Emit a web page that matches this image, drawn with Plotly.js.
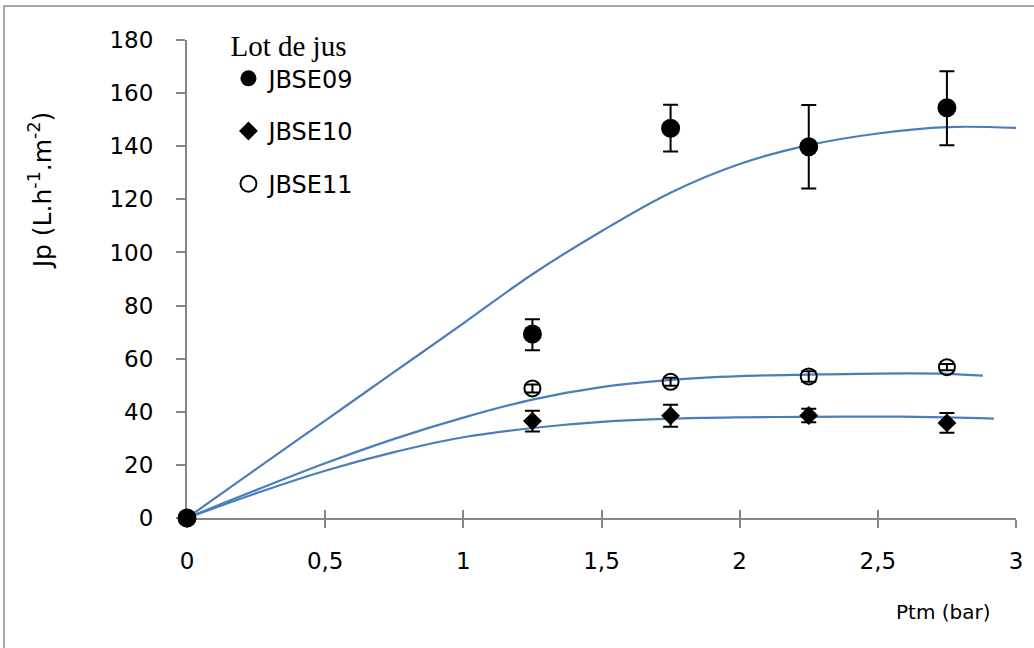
<!DOCTYPE html>
<html>
<head>
<meta charset="utf-8">
<script src="https://cdn.plot.ly/plotly-3.0.1.min.js"></script>
<style>html,body{margin:0;padding:0;background:#fff;}#chart{width:1034px;height:648px;}</style>
</head>
<body>
<div id="chart"></div>
<script>
// Measured points (Ptm in bar, Jp in L.h-1.m-2)
var ptm = [0, 1.25, 1.75, 2.25, 2.75];
var jp09 = [0, 69.3, 146.8, 139.8, 154.5];
var err09Plus = [0, 5.5, 8.8, 15.7, 13.7];
var err09Minus = [0, 6.1, 8.8, 15.7, 14.1];
var jp10 = [0, 36.5, 38.5, 38.6, 35.8];
var err10 = [0, 3.9, 4.1, 2.5, 3.7];
var jp11 = [0, 48.8, 51.3, 53.3, 56.8];
var err11 = [0, 1.5, 1.5, 2.0, 1.2];

// Fitted curves
var fitX09 = [0, 0.25, 0.5, 0.75, 1, 1.25, 1.5, 1.75, 2, 2.25, 2.5, 2.75, 3];
var fitY09 = [0, 18.4, 36.7, 55, 73.3, 91.8, 108, 122.5, 133.3, 140.4, 144.8, 147.2, 146.9];
var fitX10 = [0, 0.25, 0.5, 0.75, 1, 1.25, 1.5, 1.75, 2, 2.25, 2.5, 2.75, 2.92];
var fitY10 = [0, 9.3, 17.8, 24.8, 30.4, 33.9, 36.2, 37.4, 37.9, 38.1, 38.2, 37.9, 37.4];
var fitX11 = [0, 0.25, 0.5, 0.75, 1, 1.25, 1.5, 1.75, 2, 2.25, 2.5, 2.75, 2.88];
var fitY11 = [0, 10.5, 20.6, 29.8, 37.8, 44.6, 49.3, 52, 53.4, 54, 54.4, 54.3, 53.6];

var seriesNames = ['JBSE09', 'JBSE10', 'JBSE11'];
var xTickVals = [0, 0.5, 1, 1.5, 2, 2.5, 3];
var xTickText = ['0', '0,5', '1', '1,5', '2', '2,5', '3'];
var yTickVals = [0, 20, 40, 60, 80, 100, 120, 140, 160, 180];
var yTickText = ['0', '20', '40', '60', '80', '100', '120', '140', '160', '180'];

var blue = '#4a7ebb';
var fitStyle = {color: blue, width: 2.2, shape: 'spline', smoothing: 1};
var ebStyle = {color: '#000', thickness: 2, width: 7.5};

var traces = [
  {x: fitX09, y: fitY09, mode: 'lines', line: fitStyle, showlegend: false, hoverinfo: 'skip'},
  {x: fitX10, y: fitY10, mode: 'lines', line: fitStyle, showlegend: false, hoverinfo: 'skip'},
  {x: fitX11, y: fitY11, mode: 'lines', line: fitStyle, showlegend: false, hoverinfo: 'skip'},
  {x: ptm, y: jp11, name: seriesNames[2], legendgroup: 'g3', legendrank: 3, mode: 'markers', cliponaxis: false,
   marker: {symbol: 'circle-open', size: 16, color: '#000', line: {width: 2, color: '#000'}},
   error_y: Object.assign({type: 'data', array: err11, visible: true}, ebStyle)},
  {x: ptm, y: jp10, name: seriesNames[1], legendgroup: 'g2', legendrank: 2, mode: 'markers', cliponaxis: false,
   marker: {symbol: 'diamond', size: 14.5, color: '#000'},
   error_y: Object.assign({type: 'data', array: err10, visible: true}, ebStyle)},
  {x: ptm, y: jp09, name: seriesNames[0], legendgroup: 'g1', legendrank: 1, mode: 'markers', cliponaxis: false,
   marker: {symbol: 'circle', size: 19, color: '#000'},
   error_y: Object.assign({type: 'data', symmetric: false, array: err09Plus, arrayminus: err09Minus, visible: true}, ebStyle)}
];

var tickFont = {family: 'DejaVu Sans', size: 23, color: '#000'};
var axisGray = '#868686';

var layout = {
  width: 1034, height: 648,
  margin: {l: 187, r: 18, t: 40, b: 130},
  paper_bgcolor: '#fff', plot_bgcolor: '#fff',
  showlegend: true,
  legend: {
    x: 0.05, xanchor: 'left', y: 1.045, yanchor: 'top',
    bgcolor: 'rgba(0,0,0,0)', traceorder: 'grouped', tracegroupgap: 18.5,
    font: {family: 'DejaVu Sans', size: 24, color: '#000'},
    title: {text: 'Lot de jus', font: {family: 'Liberation Serif', size: 29, color: '#000'}},
    itemsizing: 'trace'
  },
  xaxis: {
    range: [0, 3], tickvals: xTickVals, ticktext: xTickText,
    showgrid: false, zeroline: false, showline: true, linecolor: axisGray, linewidth: 2,
    ticks: 'outside', ticklen: 8, tickwidth: 2, tickcolor: axisGray,
    tickfont: tickFont, ticklabelstandoff: 13, layer: 'below traces'
  },
  xaxis2: {
    range: [0, 3], overlaying: 'x', anchor: 'y', side: 'bottom', matches: 'x',
    tickvals: xTickVals, showticklabels: false,
    showgrid: false, zeroline: false, showline: false,
    ticks: 'inside', ticklen: 8, tickwidth: 2, tickcolor: axisGray, layer: 'below traces'
  },
  yaxis: {
    range: [0, 180], tickvals: yTickVals, ticktext: yTickText,
    showgrid: false, zeroline: false, showline: true, linecolor: axisGray, linewidth: 2,
    ticks: 'outside', ticklen: 9, tickwidth: 2, tickcolor: axisGray,
    tickfont: tickFont, ticklabelstandoff: 18, layer: 'below traces'
  },
  annotations: [
    {text: 'Jp (L.h<sup>-1</sup>.m<sup>-2</sup>)', xref: 'paper', yref: 'paper', x: -0.177, y: 0.686,
     textangle: -90, showarrow: false, xanchor: 'center', yanchor: 'middle',
     font: {family: 'DejaVu Sans', size: 25, color: '#000'}},
    {text: 'Ptm (bar)', xref: 'paper', yref: 'paper', x: 0.912, y: -0.197,
     showarrow: false, xanchor: 'center', yanchor: 'middle',
     font: {family: 'DejaVu Sans', size: 20, color: '#000'}}
  ],
  shapes: [
    {type: 'rect', xref: 'paper', yref: 'paper', x0: -0.2207, x1: 1.03, y0: -0.3, y1: 1.0711,
     line: {color: '#8c8c8c', width: 1.5}, fillcolor: 'rgba(0,0,0,0)', layer: 'below'}
  ]
};

// invisible trace so the overlaid tick axis (xaxis2) is rendered
traces.push({x: [0], y: [0], xaxis: 'x2', mode: 'markers', marker: {opacity: 0}, showlegend: false, hoverinfo: 'skip'});

Plotly.newPlot('chart', traces, layout, {displayModeBar: false, staticPlot: true});
</script>
</body>
</html>
